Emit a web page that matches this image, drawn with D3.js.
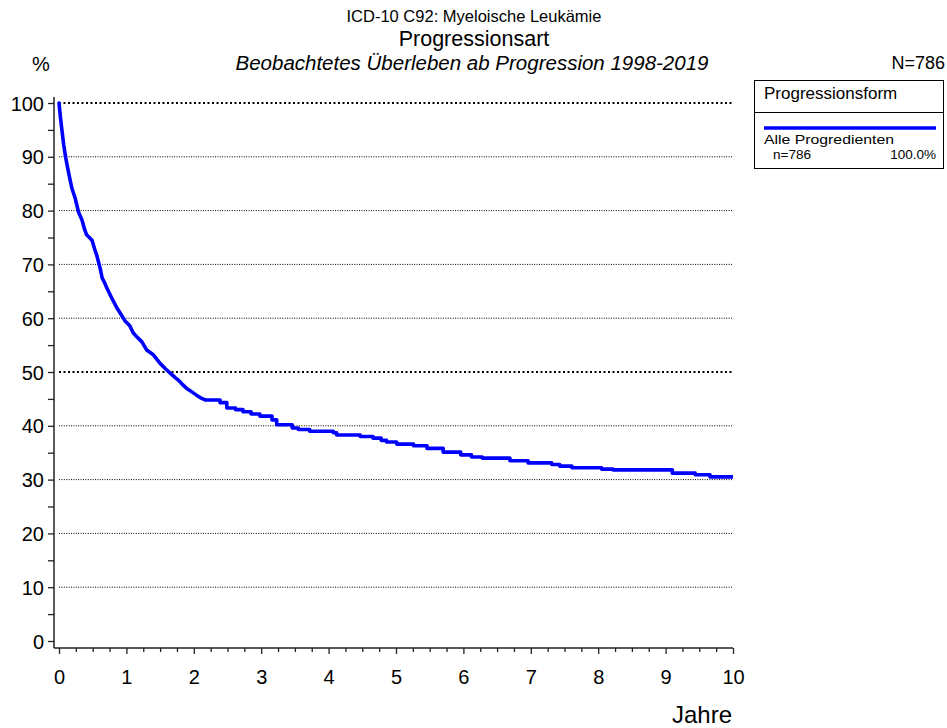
<!DOCTYPE html>
<html><head><meta charset="utf-8">
<script src="https://cdn.jsdelivr.net/npm/d3@7/dist/d3.min.js"></script>
<style>body{margin:0;background:#fff}svg{display:block;font-family:"Liberation Sans",Arial,sans-serif}</style>
</head><body><svg id="c" width="947" height="728"></svg>
<script>
const titleLines = ["ICD-10 C92: Myeloische Leukämie", "Progressionsart", "Beobachtetes Überleben ab Progression 1998-2019"];
const totalLabel = "N=786";
const yTicks = [0,10,20,30,40,50,60,70,80,90,100];
const xTicks = [0,1,2,3,4,5,6,7,8,9,10];
const legendTitle = "Progressionsform";
const seriesName = "Alle Progredienten";
const seriesN = "n=786";
const seriesPct = "100.0%";
const years = [0,0.02,0.04,0.07,0.10,0.14,0.19,0.24,0.29,0.34,0.38,0.41,0.49,0.53,0.56,0.61,0.64,0.68,0.71,0.78,0.86,0.93,0.98,1.05,1.10,1.15,1.23,1.30,1.40,1.45,1.50,1.58,1.65,1.72,1.77,1.83,1.89,1.96,2.04,2.10,2.17,2.39,2.49,2.62,2.73,2.85,2.98,3.16,3.23,3.46,3.55,3.72,4.07,4.12,4.47,4.66,4.78,4.86,5.01,5.26,5.46,5.70,5.96,6.12,6.28,6.69,6.96,7.31,7.43,7.61,8.05,8.22,9.10,9.44,9.66,10];
const survival = [100,97.5,95.3,92.2,89.8,87.2,84.2,82.3,79.7,78.3,76.5,75.5,74.5,72.8,71.7,69.3,67.5,66.5,65.6,63.8,61.9,60.5,59.5,58.6,57.3,56.6,55.6,54.1,53.2,52.4,51.6,50.6,49.8,49.0,48.5,47.7,47.0,46.4,45.7,45.2,44.8,44.3,43.3,43.0,42.6,42.2,41.8,41.1,40.2,39.6,39.3,39.0,38.7,38.3,38.0,37.7,37.3,37.0,36.6,36.3,35.8,35.1,34.6,34.2,34.0,33.5,33.1,32.8,32.5,32.2,31.95,31.8,31.2,30.9,30.5,30.5];

const svg = d3.select("#c");
const x = d3.scaleLinear().domain([0,10]).range([59,733]);
const y = d3.scaleLinear().domain([0,100]).range([641,103]);

// titles
svg.append("text").attr("x",474).attr("y",22).attr("text-anchor","middle").attr("font-size",16.5).text(titleLines[0]);
svg.append("text").attr("x",474).attr("y",46).attr("text-anchor","middle").attr("font-size",21.5).text(titleLines[1]);
svg.append("text").attr("x",472).attr("y",70).attr("text-anchor","middle").attr("font-size",20.5).attr("font-style","italic").text(titleLines[2]);
svg.append("text").attr("x",41).attr("y",71).attr("text-anchor","middle").attr("font-size",20).text("%");
svg.append("text").attr("x",945).attr("y",69).attr("text-anchor","end").attr("font-size",18).text(totalLabel);

// gridlines
svg.append("g").selectAll("line").data(yTicks.filter(d=>d>0)).join("line")
  .attr("x1",x(0)).attr("x2",x(10)).attr("y1",d=>y(d)).attr("y2",d=>y(d))
  .attr("stroke","#000")
  .attr("stroke-width",d=>(d===100||d===50)?2.2:1)
  .attr("stroke-dasharray",d=>(d===100||d===50)?"2,2.5":"1,1.4");

// y axis
const yAxis = svg.append("g").attr("transform","translate(54,0)")
  .call(d3.axisLeft(y).tickValues(d3.range(0,101,5)).tickSize(6).tickFormat(d=> d%10===0? d : ""));
yAxis.select(".domain").attr("d","M0,97V648").attr("stroke","#222").attr("stroke-width",1.5);
yAxis.selectAll(".tick line").attr("stroke","#222").attr("stroke-width",1.3);
yAxis.selectAll(".tick text").attr("font-size",20).attr("fill","#000").attr("font-family","Liberation Sans, Arial, sans-serif").attr("x",-10).attr("dy","0.35em");

// x axis
const xAxis = svg.append("g").attr("transform","translate(0,648)")
  .call(d3.axisBottom(x).tickValues(d3.range(0,10.01,0.25)).tickSize(4).tickFormat(d=> Number.isInteger(d)? d : ""));
xAxis.select(".domain").attr("d","M54,0H733").attr("stroke","#222").attr("stroke-width",1.5);
xAxis.selectAll(".tick line").attr("stroke","#222").attr("stroke-width",1.3)
  .attr("y2",d=>Number.isInteger(d)?6:4);
xAxis.selectAll(".tick text").attr("font-size",20).attr("fill","#000").attr("font-family","Liberation Sans, Arial, sans-serif").attr("y",22).attr("dy","0.71em");
svg.append("text").attr("x",732).attr("y",723).attr("text-anchor","end").attr("font-size",24).text("Jahre");

// curve: dense early part drawn straight, later part as steps
const pts = years.map((t,i)=>[t,survival[i]]);
const split = 2.17;
const early = pts.filter(d=>d[0]<=split);
const late = pts.filter(d=>d[0]>=split);
svg.append("path").datum(early)
  .attr("d", d3.line().x(d=>x(d[0])).y(d=>y(d[1])).curve(d3.curveLinear))
  .attr("fill","none").attr("stroke","#0000ff").attr("stroke-width",3.6).attr("stroke-linejoin","round").attr("stroke-linecap","round");
svg.append("path").datum(late)
  .attr("d", d3.line().x(d=>x(d[0])).y(d=>y(d[1])).curve(d3.curveStepAfter))
  .attr("fill","none").attr("stroke","#0000ff").attr("stroke-width",3.6).attr("stroke-linejoin","round");

// legend
const lg = svg.append("g");
lg.append("rect").attr("x",754.5).attr("y",80.5).attr("width",189).attr("height",88).attr("fill","#fff").attr("stroke","#000").attr("stroke-width",1);
lg.append("line").attr("x1",754.5).attr("x2",943.5).attr("y1",112.5).attr("y2",112.5).attr("stroke","#000");
lg.append("text").attr("x",764).attr("y",99).attr("font-size",17).text(legendTitle);
lg.append("line").attr("x1",764).attr("x2",936).attr("y1",128).attr("y2",128).attr("stroke","#0000ff").attr("stroke-width",3.5);
lg.append("text").attr("x",764).attr("y",144).attr("font-size",13.5).attr("textLength",130).attr("lengthAdjust","spacingAndGlyphs").text(seriesName);
lg.append("text").attr("x",773).attr("y",159).attr("font-size",13.5).text(seriesN);
lg.append("text").attr("x",936).attr("y",159).attr("text-anchor","end").attr("font-size",13.5).text(seriesPct);
</script></body></html>
